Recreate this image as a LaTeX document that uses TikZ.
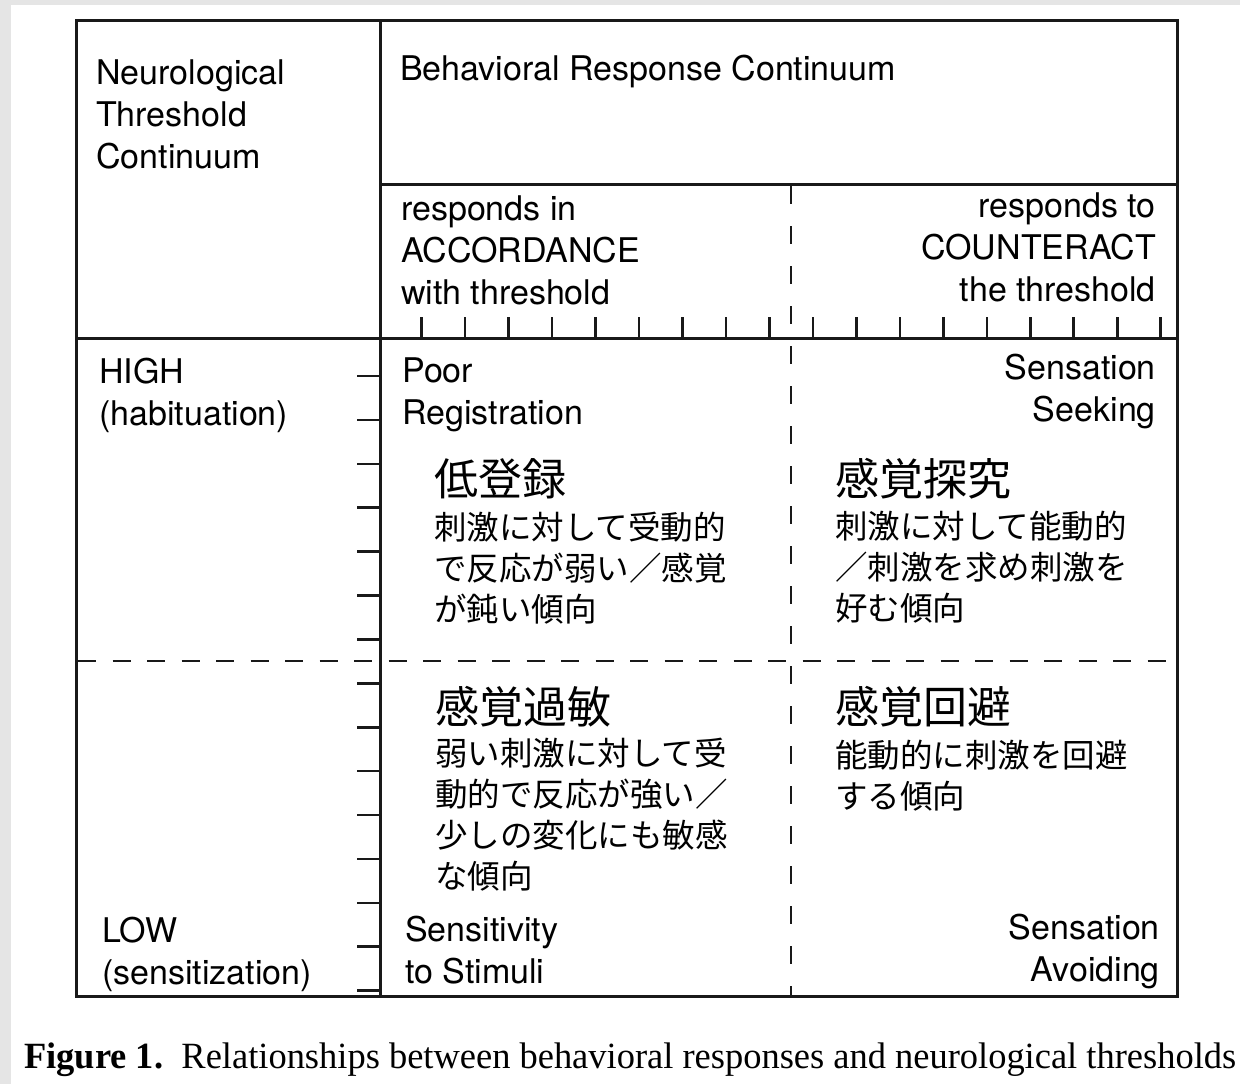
\documentclass[tikz,border=0pt]{standalone}
\usepackage{fontspec}
\setmainfont{TeX Gyre Heros}
\newfontfamily\jp{Noto Sans CJK JP}
\newfontfamily\capfont{Liberation Serif}
\begin{document}
\begin{tikzpicture}[x=1pt,y=-1pt,
  frame/.style={line width=3pt,black!90},
  tick/.style={line width=2.6pt,black!90},
  hdash/.style={line width=2.8pt,dash pattern=on 18pt off 16.5pt,black!90},
  vdash/.style={line width=2.8pt,dash pattern=on 18pt off 22pt,black!90},
  en/.style={inner sep=0pt,font=\fontsize{34}{42}\selectfont},
  enl/.style={en,align=left,anchor=base west},
  enr/.style={en,align=right,anchor=base east},
  jt/.style={inner sep=0pt,anchor=base west,font=\jp\fontsize{44}{50}\selectfont},
  jb/.style={inner sep=0pt,anchor=base west,align=left,font=\jp\fontsize{32.5}{41}\selectfont}]
\useasboundingbox (0,0) rectangle (1240,1084);
\fill[black!10] (0,0) rectangle (1240,1084);
\fill[white] (11,5) rectangle (1240,1084);
% frame
\coordinate (tl) at (76,20);
\coordinate (br) at (1177,996);
\draw[frame] (tl) rectangle (br);
\draw[frame] (380,20) -- (380,996);
\draw[frame] (380,184) -- (1177,184);
\draw[frame] (76,338) -- (1177,338);
% dashed
\draw[vdash] (791,186) -- (791,996);
\draw[hdash] (78,661) -- (1177,661);
% ticks
\foreach \i in {0,...,17} \draw[tick] (421.7+43.47*\i,338) -- ++(0,-21);
\foreach \i in {0,...,14} \draw[tick] (380,376+43.9*\i) -- ++(-23,0);
% texts (base anchor = last line baseline)
\node[enl] (neuro) at (96,168) {Neurological\\Threshold\\Continuum};
\node[enl] (behav) at (400,80) {Behavioral Response Continuum};
\node[enl] (acc) at (401,304) {responds in\\ACCORDANCE\\with threshold};
\node[enr] (cnt) at (1156,301) {responds to\\COUNTERACT\\the threshold};
\node[enl] (high) at (99,425) {HIGH\\(habituation)};
\node[enl] (poor) at (402,424) {Poor\\Registration};
\node[enr] (seek) at (1156,421) {Sensation\\Seeking};
\node[enl] (low) at (102,984) {LOW\\(sensitization)};
\node[enl] (sens) at (405,983) {Sensitivity\\to Stimuli};
\node[enr] (avoid) at (1160,981) {Sensation\\Avoiding};
% japanese
\node[jt] (t1) at (434,495) {低登録};
\node[jb] (b1) at (434,621) {刺激に対して受動的\\で反応が弱い／感覚\\が鈍い傾向};
\node[jt] (t2) at (835,495) {感覚探究};
\node[jb] (b2) at (835,620) {刺激に対して能動的\\／刺激を求め刺激を\\好む傾向};
\node[jt] (t3) at (435,723) {感覚過敏};
\node[jb] (b3) at (435,888) {弱い刺激に対して受\\動的で反応が強い／\\少しの変化にも敏感\\な傾向};
\node[jt] (t4) at (835,723) {感覚回避};
\node[jb] (b4) at (835,808) {能動的に刺激を回避\\する傾向};
% caption
\node[inner sep=0pt,anchor=base west] (cap) at (24,1068) {\resizebox{1212pt}{\height}{\capfont\fontsize{37}{40}\selectfont\textbf{Figure 1.}\ \ Relationships between behavioral responses and neurological thresholds}};
\end{tikzpicture}
\end{document}
